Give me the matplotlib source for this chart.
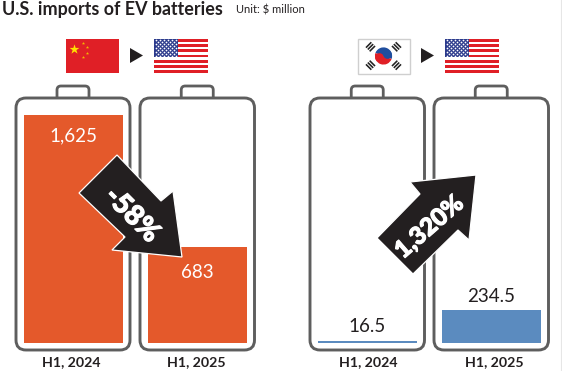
import matplotlib
matplotlib.use("Agg")
import matplotlib.pyplot as plt
import matplotlib.patheffects as pe
from matplotlib.patches import Circle, FancyBboxPatch, Polygon, Rectangle, Wedge
from matplotlib.transforms import Affine2D
import numpy as np

plt.rcParams["font.family"] = ["Lato", "DejaVu Sans"]

# values, $ million
china_values = [1625, 683]
korea_values = [16.5, 234.5]
value_labels = ["1,625", "683", "16.5", "234.5"]
periods = ["H1, 2024", "H1, 2025", "H1, 2024", "H1, 2025"]
changes = ["-58%", "1,320%"]

ORANGE = "#e4592b"
BLUE = "#5b8bbf"
GREY = "#5e5e5e"
DARK = "#231f20"
FLAG_RED = "#e01f26"
US_BLUE = "#2b3a8c"
KR_BLUE = "#1f4e9e"

W, H = 562, 371
BASE_Y, TOP_Y = 343, 115
fig = plt.figure(figsize=(W / 100, H / 100), dpi=100)

# bars get their own axes so heights come from the values
bar_ax = fig.add_axes([0, (H - BASE_Y) / H, 1, (BASE_Y - TOP_Y) / H], zorder=1)
bar_ax.set_xlim(0, W)
bar_ax.set_ylim(0, china_values[0])
bar_ax.axis("off")

bar_lefts = [24, 148, 318, 442]
bar_width = 98.5
all_values = china_values + korea_values
bar_colors = [ORANGE, ORANGE, BLUE, BLUE]
for left, val, clr in zip(bar_lefts, all_values, bar_colors):
    bar_ax.bar(left, val, width=bar_width, align="edge", color=clr, linewidth=0)

# label offsets from bar top, in points
label_offsets = [-15, -18.5, 10, 10]
label_colors = ["white", "white", DARK, DARK]
for left, val, txt, off, clr in zip(bar_lefts, all_values, value_labels, label_offsets, label_colors):
    bar_ax.annotate(txt, (left + bar_width / 2, val), xytext=(0, off), textcoords="offset points",
                    ha="center", va="center", fontsize=13.5, color=clr)

# pixel axes for everything decorative
ax = fig.add_axes([0, 0, 1, 1], zorder=2)
ax.set_xlim(0, W)
ax.set_ylim(H, 0)
ax.axis("off")
ax.patch.set_alpha(0)


def battery(x0, x1):
    mid = (x0 + x1) / 2
    ax.add_patch(FancyBboxPatch((mid - 16, 86), 32, 20, boxstyle="round,pad=0,rounding_size=4",
                                fc="white", ec=GREY, lw=2.0, zorder=1))
    ax.add_patch(Rectangle((mid - 19, 98), 38, 10, fc="white", ec="none", zorder=1.1))
    ax.add_patch(FancyBboxPatch((x0, 98), x1 - x0, 252, boxstyle="round,pad=0,rounding_size=10",
                                fc="none", ec=GREY, lw=2.1, zorder=1.2))


for x0, x1 in [(16, 130), (140, 254.5), (310, 424.5), (434, 548.5)]:
    battery(x0, x1)


def us_flag(x0):
    y0, w, h = 39, 54, 34
    sh = h / 13
    for i in range(0, 13, 2):
        ax.add_patch(Rectangle((x0, y0 + i * sh), w, sh, fc=FLAG_RED, ec="none"))
    ax.add_patch(Rectangle((x0, y0), w * 0.45, sh * 7, fc=US_BLUE, ec="none"))
    xs, ys = [], []
    for r in range(9):
        n = 6 if r % 2 == 0 else 5
        off = 0 if r % 2 == 0 else 0.5
        for c in range(n):
            xs.append(x0 + (c + off + 0.5) * w * 0.45 / 6)
            ys.append(y0 + (r + 0.5) * sh * 7 / 9)
    ax.scatter(xs, ys, s=1.6, c="white", linewidths=0, zorder=3)


def cn_flag():
    ax.add_patch(Rectangle((66, 39), 53, 34, fc=FLAG_RED, ec="none"))
    ax.scatter([74], [49], s=55, marker="*", c="#ffe000", linewidths=0, zorder=3)
    ax.scatter([83, 87, 87, 83], [43, 47, 52.5, 56.5], s=6, marker="*", c="#f5b800", linewidths=0, zorder=3)


def kr_flag():
    ax.add_patch(Rectangle((357.5, 38.5), 52.5, 35, fc="white", ec="#cfcfcf", lw=1))
    cx, cy, r = 383.5, 56, 8.6
    ax.add_patch(Wedge((cx, cy), r, 200, 20, fc=KR_BLUE, ec="none", zorder=3))
    ax.add_patch(Wedge((cx, cy), r, 20, 200, fc=FLAG_RED, ec="none", zorder=3))
    dx, dy = r / 2 * np.cos(np.radians(20)), r / 2 * np.sin(np.radians(20))
    ax.add_patch(Circle((cx - dx, cy + dy), r / 2, fc=FLAG_RED, ec="none", zorder=4))
    ax.add_patch(Circle((cx + dx, cy - dy), r / 2, fc=KR_BLUE, ec="none", zorder=4))
    for sx, sy in [(-1, -1), (1, -1), (-1, 1), (1, 1)]:
        ang = 45 * sx * sy
        px, py = cx + sx * 13, cy + sy * 9.2
        tr = Affine2D().rotate_deg(ang).translate(px, py) + ax.transData
        for k in (-2.6, 0, 2.6):
            ax.add_patch(Rectangle((k - 0.8, -3.8), 1.6, 7.6, fc="#222222", ec="none", transform=tr, zorder=3))


cn_flag()
us_flag(154)
kr_flag()
us_flag(445)
for x0 in (130, 421):
    ax.add_patch(Polygon([(x0, 48), (x0 + 13, 55.5), (x0, 63)], fc=DARK, ec="none"))

# change arrows
down_arrow = [(117, 155), (161, 201), (173, 191), (182, 257), (112, 250), (125, 237), (79, 193)]
up_arrow = [(476, 175), (410, 182), (420, 194), (377, 238), (413, 274), (458, 230), (469, 240)]
ax.add_patch(Polygon(down_arrow, fc=DARK, ec="white", lw=0.9, zorder=5, joinstyle="miter"))
ax.add_patch(Polygon(up_arrow, fc=DARK, ec="white", lw=0.9, zorder=5, joinstyle="miter"))
heavier = [pe.withStroke(linewidth=0.8, foreground="white")]
ax.text(132, 215, changes[0], rotation=-45, rotation_mode="anchor", ha="center", va="center",
        fontsize=20, fontweight=900, color="white", zorder=6, path_effects=heavier)
ax.text(429, 227, changes[1], rotation=41, rotation_mode="anchor", ha="center", va="center",
        fontsize=17.5, fontweight=900, color="white", zorder=6, path_effects=heavier)

for x, txt in zip([71, 196, 368, 494], periods):
    ax.text(x, 362, txt, ha="center", va="center", fontsize=10.2, fontweight="bold", color=DARK)

ax.text(2, 9, "U.S. imports of EV batteries", ha="left", va="center", fontsize=12.9,
        fontweight="bold", color=DARK)
ax.text(236, 10, "Unit: $ million", ha="left", va="center", fontsize=8, color=DARK)

# faint page edge on the right
ax.plot([561, 561], [0, H], color="#e6e6e6", lw=0.8)

fig.savefig("out.png", dpi=100)
